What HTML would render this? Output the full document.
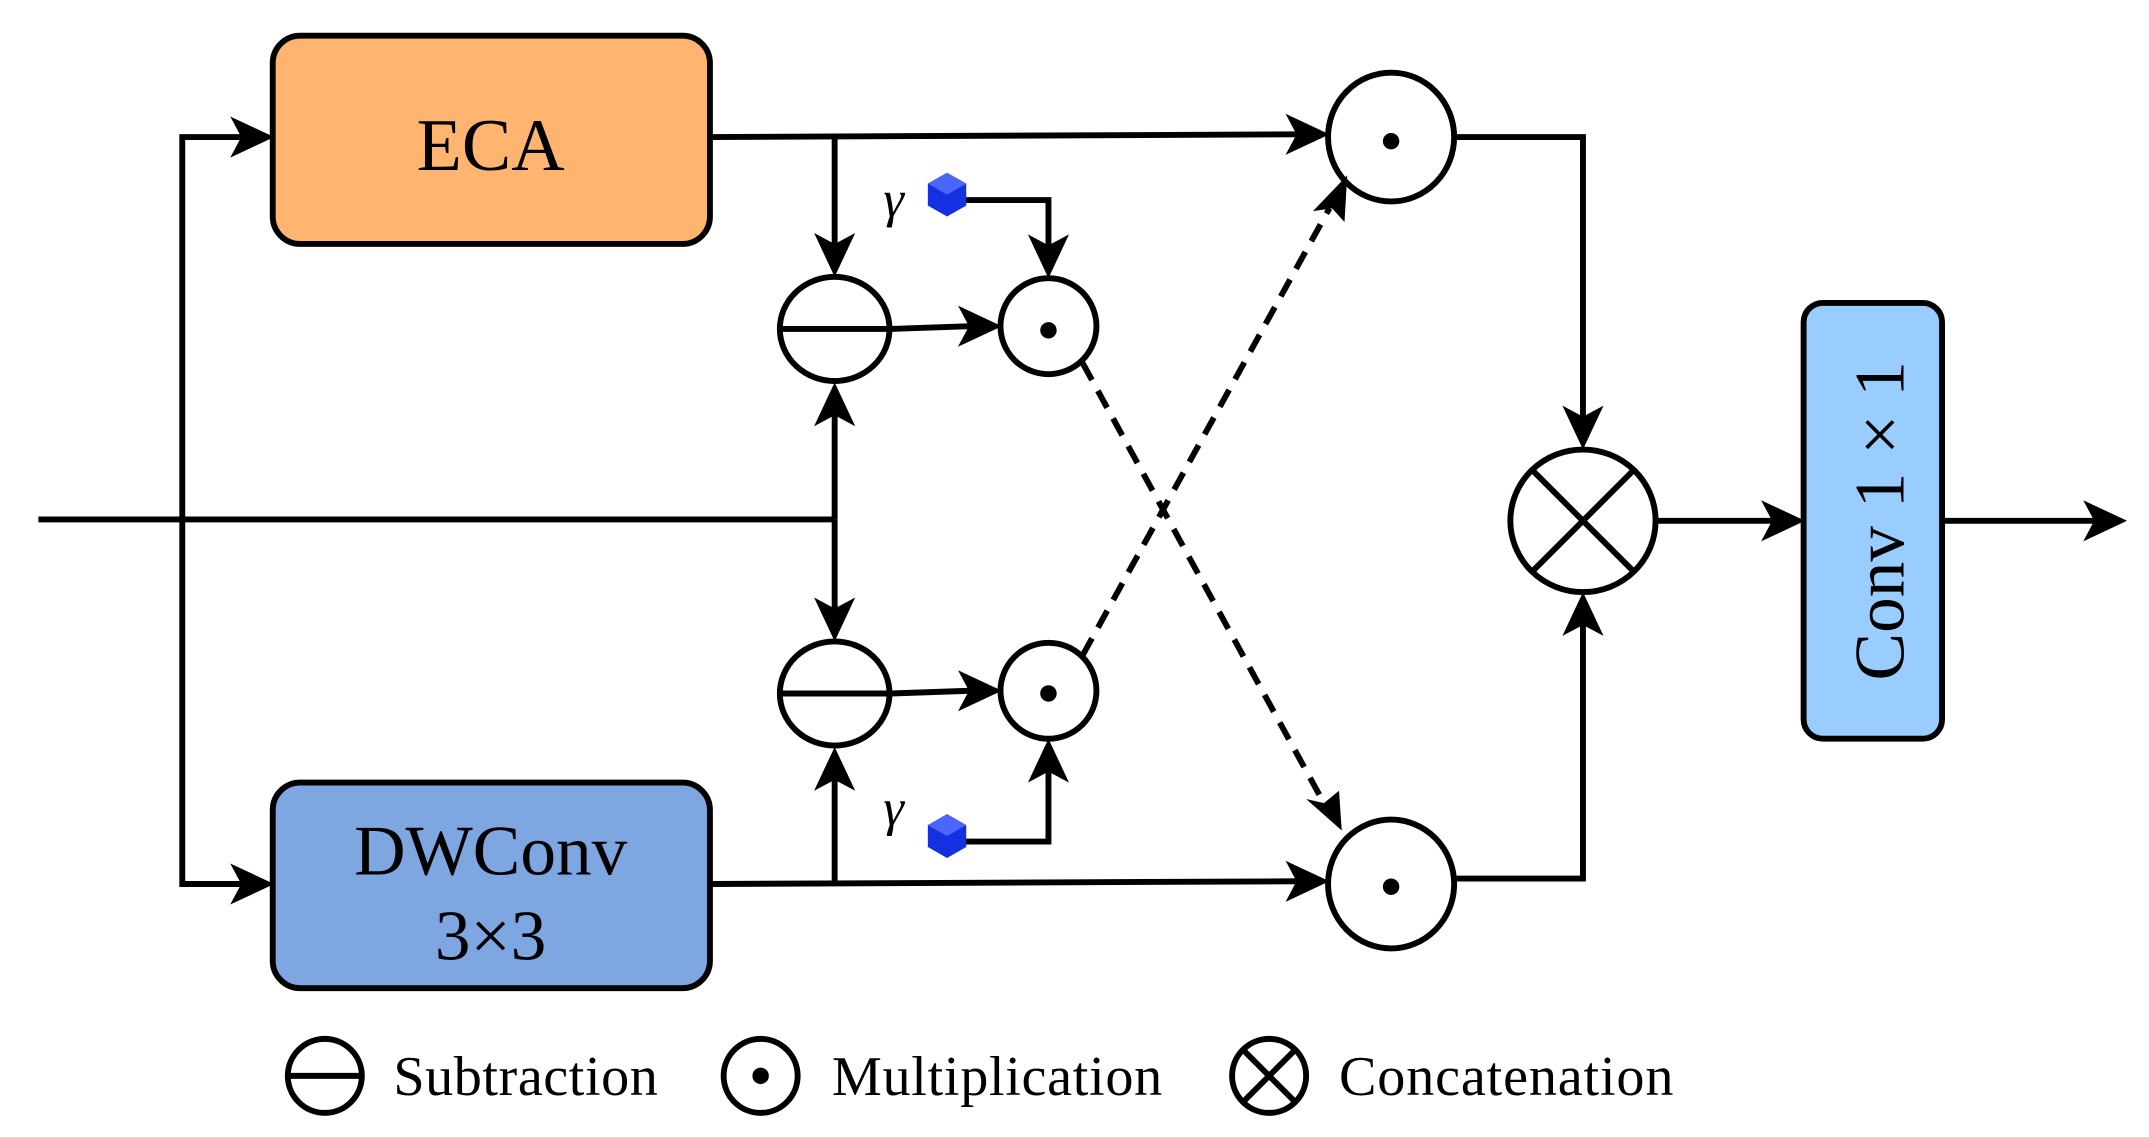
<!DOCTYPE html>
<html><head><meta charset="utf-8"><style>
html,body{margin:0;padding:0;background:#fff;}
svg{display:block;}
text{font-family:"Liberation Serif",serif;fill:#000;}
</style></head><body>
<svg width="2149" height="1137" viewBox="0 0 1568 829.6" xmlns="http://www.w3.org/2000/svg">
<g fill="none" stroke="#000" stroke-width="4.3">
<rect x="199" y="26" width="319" height="152" rx="20" fill="#FFB570"/>
<rect x="199" y="571" width="319" height="150" rx="20" fill="#7EA6E0"/>
<rect x="1316" y="221" width="101" height="318" rx="14" fill="#99CCFF"/>
<line x1="28" y1="379" x2="609" y2="379"/>
<polyline points="180,100 133,100 133,645 180,645"/>
<line x1="518" y1="100" x2="948" y2="98"/>
<line x1="518" y1="645" x2="948" y2="643"/>
<line x1="609" y1="100" x2="609" y2="180"/>
<line x1="609" y1="379" x2="609" y2="300"/>
<line x1="609" y1="379" x2="609" y2="447"/>
<line x1="609" y1="645" x2="609" y2="563"/>
<line x1="650" y1="240" x2="708" y2="238"/>
<line x1="650" y1="506" x2="708" y2="504"/>
<polyline points="700,146 765,146 765,182"/>
<polyline points="700,614 765,614 765,560"/>
<polyline points="1062,100 1155,100 1155,310"/>
<polyline points="1062,641 1155,641 1155,450"/>
<line x1="1208" y1="380" x2="1295" y2="380"/>
<line x1="1417" y1="380" x2="1532" y2="380"/>
<line x1="790" y1="265" x2="966" y2="586" stroke-dasharray="14,9"/>
<line x1="790" y1="478" x2="970" y2="152" stroke-dasharray="14,9"/>
<ellipse cx="609" cy="240" rx="40" ry="38" fill="#fff"/>
<line x1="569" y1="240" x2="649" y2="240"/>
<ellipse cx="609" cy="506" rx="40" ry="38" fill="#fff"/>
<line x1="569" y1="506" x2="649" y2="506"/>
<circle cx="765" cy="238" r="35" fill="#fff"/>
<circle cx="765" cy="504" r="35" fill="#fff"/>
<ellipse cx="1015" cy="100" rx="46" ry="47" fill="#fff"/>
<ellipse cx="1015" cy="645" rx="46" ry="47" fill="#fff"/>
<ellipse cx="1155" cy="380" rx="53" ry="52" fill="#fff"/>
<line x1="1118" y1="343" x2="1192" y2="417"/>
<line x1="1192" y1="343" x2="1118" y2="417"/>
<circle cx="237" cy="785" r="27"/>
<line x1="210" y1="785" x2="264" y2="785"/>
<circle cx="555" cy="785" r="27"/>
<circle cx="926" cy="785" r="27"/>
<line x1="907" y1="766" x2="945" y2="804"/>
<line x1="945" y1="766" x2="907" y2="804"/>
</g>
<g fill="#000">
<circle cx="765" cy="241" r="6"/><circle cx="765" cy="506" r="6"/>
<circle cx="1015" cy="103" r="6"/><circle cx="1015" cy="647" r="6"/>
<circle cx="555" cy="785" r="6"/>
<polygon points="200,100 168,85 176,100 168,115"/>
<polygon points="200,645 168,630 176,645 168,660"/>
<polygon points="609,202 594,170 609,178 624,170"/>
<polygon points="609,279 594,311 609,303 624,311"/>
<polygon points="609,468 594,436 609,444 624,436"/>
<polygon points="609,545 594,577 609,569 624,577"/>
<polygon points="731,238 699,223 707,238 699,253"/>
<polygon points="731,504 699,489 707,504 699,519"/>
<polygon points="765,203 750,171 765,179 780,171"/>
<polygon points="765,539 750,571 765,563 780,571"/>
<polygon points="970,98 938,83 946,98 938,113"/>
<polygon points="970,643 938,628 946,643 938,658"/>
<polygon points="1155,328 1140,296 1155,304 1170,296"/>
<polygon points="1155,432 1140,464 1155,456 1170,464"/>
<polygon points="1317,380 1285,365 1293,380 1285,395"/>
<polygon points="1552,380 1520,365 1528,380 1520,395"/>
<polygon points="979,606 953,583 966,586 977,577"/>
<polygon points="983,128 981,162 972,152 958,154"/>
</g>
<g>
<polygon points="677,134 691,126 705,134 705,150 691,158 677,150" fill="#1530E0"/>
<polygon points="677,134 691,126 705,134 691,142" fill="#4A66FF"/>
<polygon points="677,602 691,594 705,602 705,618 691,626 677,618" fill="#1530E0"/>
<polygon points="677,602 691,594 705,602 691,610" fill="#4A66FF"/>
</g>
<text x="652" y="158" font-size="38" font-style="italic" text-anchor="middle">γ</text>
<text x="652" y="602" font-size="38" font-style="italic" text-anchor="middle">γ</text>
<text x="358" y="124" font-size="54" text-anchor="middle">ECA</text>
<text x="358" y="638" font-size="52" text-anchor="middle">DWConv</text>
<text x="358" y="700" font-size="52" text-anchor="middle">3×3</text>
<text transform="translate(1389,380) rotate(-90)" font-size="52" text-anchor="middle">Conv 1 × 1</text>
<text x="287" y="799" font-size="41" textLength="193">Subtraction</text>
<text x="607" y="799" font-size="41" textLength="241">Multiplication</text>
<text x="977" y="799" font-size="41" textLength="244">Concatenation</text>
</svg>
</body></html>
